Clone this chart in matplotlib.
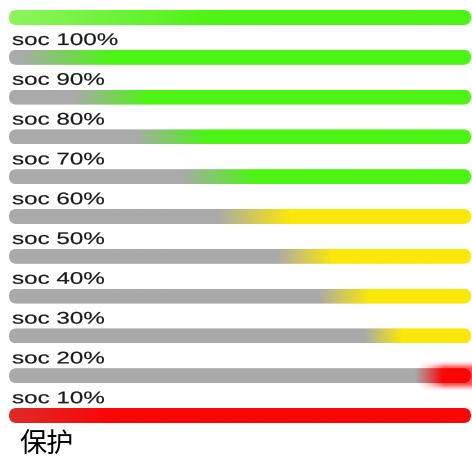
#!/usr/bin/env python

import numpy as np
import matplotlib
matplotlib.use('Agg')
import matplotlib.pyplot as plt
import matplotlib.colors as mcolors
import matplotlib.patheffects as pe
from matplotlib.patches import FancyBboxPatch
from matplotlib.transforms import Affine2D

# Data: one bar per level, label is drawn under its bar
labels = ['soc 100%','soc 90%','soc 80%','soc 70%','soc 60%','soc 50%',
	'soc 40%','soc 30%','soc 20%','soc 10%','保护']
fade_start = [0.00,0.02,0.14,0.27,0.37,0.45,0.58,0.67,0.77,0.88,0.00]
fade_end = [0.45,0.22,0.30,0.43,0.53,0.61,0.70,0.78,0.85,0.94,0.22]
start_colors = ['#8ef35e'] + ['#aaaaaa']*9 + ['#df2a2a']
end_colors = ['#4cf414']*5 + ['#fbe70a']*4 + ['#fa0606']*2
glow = [False]*9 + [True,False]

class stretch(pe.AbstractPathEffect):
	'''
	Stretch text horizontally about its anchor, with a thin outline
	'''
	def __init__(self,sx=1.0,lw=0.0):
		super().__init__()
		self.sx = sx
		self.lw = lw
	def draw_path(self,renderer,gc,tpath,affine,rgbFace=None):
		m = affine.get_matrix()
		x,y = m[0,2],m[1,2]
		affine = affine + Affine2D().translate(-x,-y).scale(self.sx,1).translate(x,y)
		gc0 = renderer.new_gc()
		gc0.copy_properties(gc)
		gc0.set_linewidth(self.lw)
		gc0.set_foreground(rgbFace)
		renderer.draw_path(gc0,tpath,affine,rgbFace)
		gc0.restore()

W,H = 472,459
fig = plt.figure(figsize=(W/100,H/100),dpi=100)
ax = fig.add_axes([0,0,1,1])

x0,L,h = 9,462,15
y0,dy = 17.5,39.8
n = 512
t = np.linspace(0,1,n)

for i,(a,b,c0,c1) in enumerate(zip(fade_start,fade_end,start_colors,end_colors)):
	y = y0 + i*dy
	w = np.clip((t-a)/(b-a),0,1)
	rgb = (1-w)[:,None]*np.array(mcolors.to_rgb(c0)) + w[:,None]*np.array(mcolors.to_rgb(c1))

	# soft halo round the red end
	if glow[i]:
		gx = np.linspace(x0+L*0.82,W,100)
		gy = np.linspace(y-24,y+24,100)
		X,Y = np.meshgrid(gx,gy)
		ramp = np.clip((X-(x0+L*a))/(L*(b-a)),0,1)**1.5
		d = np.clip(np.abs(Y-y)-h/2,0,None)
		alpha = 0.7*ramp*np.exp(-d**2/(2*3.0**2))
		rgba = np.zeros(X.shape+(4,))
		rgba[...,:3] = mcolors.to_rgb(c1)
		rgba[...,3] = alpha
		ax.imshow(rgba,extent=(gx[0],gx[-1],gy[-1],gy[0]),aspect='auto',interpolation='bilinear',zorder=1)

	im = ax.imshow(rgb[None,:,:],extent=(x0,x0+L,y+h/2,y-h/2),aspect='auto',interpolation='bilinear',zorder=2)
	patch = FancyBboxPatch((x0,y-h/2),L,h,boxstyle='round,pad=0,rounding_size=%g'%(h/2),
		fc='none',ec='none',transform=ax.transData)
	ax.add_patch(patch)
	im.set_clip_path(patch)

	if i < len(labels)-1:
		ax.text(12,y+27.5,labels[i],fontsize=12.1,family='Liberation Sans',color='#1a1a1a',
			ha='left',va='baseline',path_effects=[stretch(1.44,0.15)],zorder=3)
	else:
		ax.text(19,y+29,labels[i],fontsize=19.5,family=['Noto Sans CJK SC','DejaVu Sans'],
			color='#000000',ha='left',va='center',zorder=3)

ax.set_xlim(0,W)
ax.set_ylim(H,0)
ax.axis('off')

fig.savefig('out.png',dpi=100)
